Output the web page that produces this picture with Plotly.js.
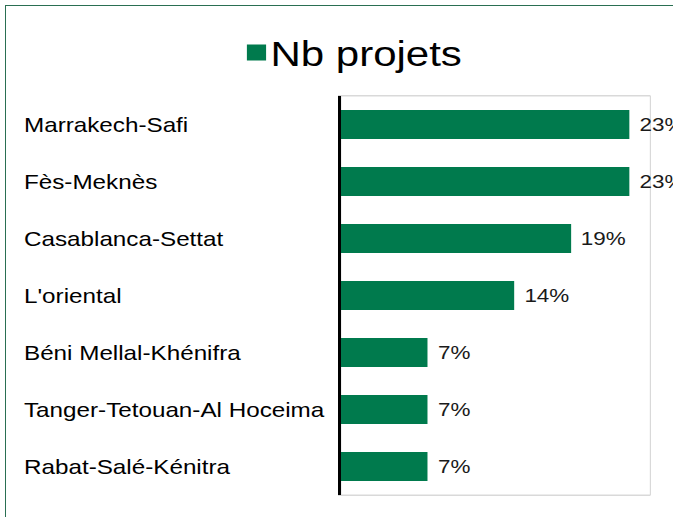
<!DOCTYPE html>
<html>
<head>
<meta charset="utf-8">
<script src="https://cdn.plot.ly/plotly-3.0.1.min.js"></script>
<style>
  html, body { margin: 0; padding: 0; background: #ffffff; overflow: hidden; width: 673px; height: 517px; }
  #plot { position: absolute; left: 0; top: 0; width: 561px; height: 517px; transform: scaleX(1.2); transform-origin: 0 0; }
  #frame { position: absolute; left: 5px; top: 5px; width: 800px; height: 800px; border-left: 1px solid #2a6f52; border-top: 1px solid #2a6f52; pointer-events: none; }
</style>
</head>
<body>
<div id="plot"></div>
<div id="frame"></div>
<script>
// Data
const regions = ["Marrakech-Safi", "Fès-Meknès", "Casablanca-Settat", "L'oriental",
                 "Béni Mellal-Khénifra", "Tanger-Tetouan-Al Hoceima", "Rabat-Salé-Kénitra"];
const shares = [23.3, 23.3, 18.6, 14.0, 7.0, 7.0, 7.0];
const shareLabels = ["23%", "23%", "19%", "14%", "7%", "7%", "7%"];
const seriesName = "Nb projets";

const green = "#007a4d";
const FONT = "Arial, 'Liberation Sans', sans-serif";

const trace = {
  type: "bar",
  orientation: "h",
  y: regions,
  x: shares,
  name: seriesName,
  marker: { color: green },
  hoverinfo: "none",
  showlegend: true
};

const annotations = [];
regions.forEach((r, i) => {
  annotations.push({
    xref: "paper", yref: "y",
    x: -1.032, y: r,
    text: r, showarrow: false,
    xanchor: "left", yanchor: "middle",
    font: { family: FONT, size: 20.2, color: "#000000" }
  });
  annotations.push({
    xref: "x", yref: "y",
    x: shares[i], y: r,
    text: shareLabels[i], showarrow: false,
    xanchor: "left", yanchor: "middle", xshift: 6.5,
    font: { family: FONT, size: 18.7, color: "#1a1a1a" }
  });
});

const layout = {
  width: 561, height: 517,
  margin: { l: 284.2, r: 19.3, t: 96, b: 22, pad: 0 },
  paper_bgcolor: "#ffffff",
  plot_bgcolor: "#ffffff",
  bargap: 0.49,
  showlegend: true,
  legend: {
    orientation: "h",
    x: -0.382, xanchor: "left",
    yref: "container", y: 0.955, yanchor: "top",
    font: { family: FONT, size: 35, color: "#000000" },
    bgcolor: "rgba(0,0,0,0)",
    itemwidth: 30
  },
  xaxis: {
    range: [0, 25],
    showgrid: false, zeroline: false,
    showticklabels: false, ticks: "",
    showline: true, mirror: true, linecolor: "#d9d9d9", linewidth: 1,
    fixedrange: true
  },
  yaxis: {
    autorange: "reversed",
    showgrid: false, zeroline: false,
    showticklabels: false, ticks: "",
    showline: true, linecolor: "#000000", linewidth: 2,
    fixedrange: true
  },
  shapes: [{
    type: "rect", xref: "paper", yref: "paper",
    x0: 0, x1: 1, y0: 0, y1: 1,
    line: { color: "#d9d9d9", width: 1 },
    layer: "below"
  }],
  annotations: annotations
};

Plotly.newPlot("plot", [trace], layout, { staticPlot: true, displayModeBar: false }).then(gd => {
  // enlarge the legend swatch to match the reference's bigger square
  gd.querySelectorAll(".legend .legendpoints path").forEach(p => {
    p.setAttribute("d", "M16.3,8H0.3V-8H16.3Z");
  });
});
</script>
</body>
</html>
